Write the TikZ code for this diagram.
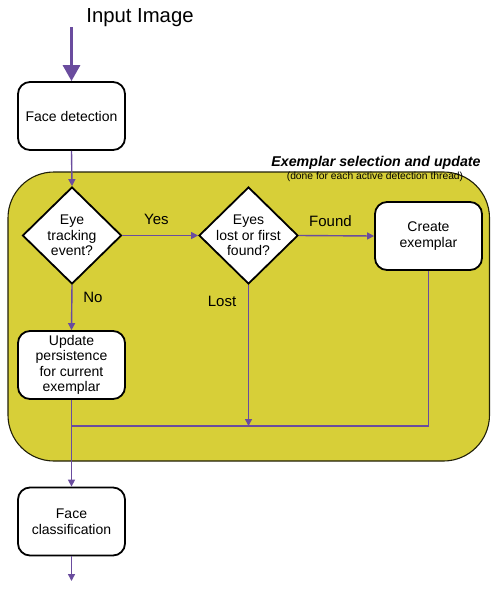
\documentclass[tikz,border=0pt]{standalone}
\usepackage{fontspec}
\setmainfont{Liberation Sans}
\usetikzlibrary{shapes.geometric,arrows.meta}
\definecolor{regionyellow}{RGB}{215,207,56}
\definecolor{connpurple}{RGB}{106,76,158}
\tikzset{
  box/.style={draw=black, line width=1.8pt, fill=white, rounded corners=12pt,
    minimum width=107pt, minimum height=68pt, align=center,
    font=\fontsize{14}{15.5}\selectfont},
  dia/.style={draw=black, line width=1.8pt, fill=white, shape=diamond,
    minimum width=99pt, minimum height=97pt, inner sep=0pt},
  diatext/.style={align=center, font=\fontsize{14}{15.5}\selectfont},
  conn/.style={draw=connpurple, line width=1.4pt, -{Triangle[length=7pt,width=7pt]}},
  plainconn/.style={draw=connpurple, line width=1.4pt},
  lbl/.style={font=\fontsize{15}{17}\selectfont, inner sep=0pt},
}
\begin{document}
\begin{tikzpicture}[x=1pt,y=-1pt]
\useasboundingbox (0,0) rectangle (491,590);
% region
\draw[fill=regionyellow, draw=black!85!regionyellow, line width=1.1pt, rounded corners=46pt]
  (8,172) rectangle (489.5,461);
\node[font=\fontsize{14.2}{16}\selectfont\bfseries\itshape, inner sep=0pt] (title) at (376,163) {Exemplar selection and update};
\node[font=\fontsize{10.3}{12}\selectfont, inner sep=0pt] (sub) at (375,177) {(done for each active detection thread)};
% top
\node[font=\fontsize{20.3}{23}\selectfont, inner sep=0pt] (input) at (140,18) {Input Image};
\coordinate (instart) at (71.5,27);
\node[box] (fd) at (71.5,116) {Face detection};
\draw[draw=connpurple, line width=3pt, -{Triangle[length=16pt,width=17pt]}] (instart) -- (fd.north);
% diamonds
\node[dia] (eye) at (72,235.5) {};
\node[diatext] at (eye.center) {Eye\\tracking\\event?};
\node[dia] (eyes) at (248.5,235.5) {};
\node[diatext] at (eyes.center) {Eyes\\lost or first\\found?};
\node[box] (create) at (428.5,236) {Create\\exemplar};
\node[box] (update) at (71.5,365) {Update\\persistence\\for current\\exemplar};
\node[box] (fc) at (71.5,521.5) {Face\\classification};
\coordinate (end) at (71.5,581);
% connectors
\draw[conn] (fd.south) -- (eye.north);
\draw[conn] (eye.east) -- (eyes.west) node[lbl, pos=0.45, above=10pt] (yes) {Yes};
\draw[conn] (eyes.east) -- (create.west) node[lbl, pos=0.42, above=8pt] (found) {Found};
\draw[conn] (eye.south) -- (update.north);
\node[lbl] (no) at (93,297) {No};
\node[lbl] (lost) at (222,301) {Lost};
\coordinate (jcreate) at (create.south |- 0,426);
\coordinate (jleft) at (71.5,426);
\coordinate (jlost) at (eyes.south |- 0,426);
\draw[plainconn] (create.south) -- (jcreate) -- (jleft);
\draw[conn] (eyes.south) -- (jlost);
\draw[conn] (update.south) -- (fc.north);
\draw[conn] (fc.south) -- (end);
\end{tikzpicture}
\end{document}
